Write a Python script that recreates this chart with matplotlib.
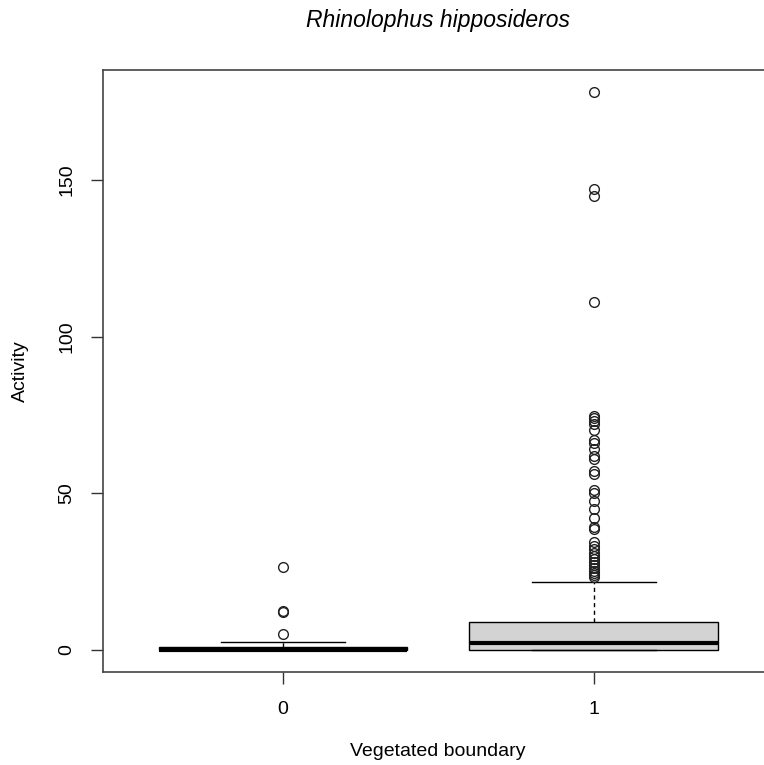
import matplotlib
matplotlib.use('Agg')
import matplotlib.pyplot as plt

plt.rcParams['font.family'] = ['Liberation Sans', 'DejaVu Sans']

# ---- data ----
categories = ['0', '1']
q1 = [0, 0]
medians = [0, 2]
q3 = [1, 8.75]
whisker_low = [0, 0]
whisker_high = [2.5, 21.75]
outliers_0 = [5, 12, 12.2, 26.5]
outliers_1 = [178, 147, 145, 111, 74.5, 74, 73, 72, 70, 67, 66, 64, 62, 61,
              57, 56, 51, 50, 47.5, 45, 42, 39.3, 38.5, 34.5, 33, 32, 31, 30,
              29, 28, 27, 26, 25, 24.5, 24, 23.2]
yticks = [0, 50, 100, 150]
title = 'Rhinolophus hipposideros'
xlabel = 'Vegetated boundary'
ylabel = 'Activity'

fliers = [outliers_0, outliers_1]
stats = []
for i, c in enumerate(categories):
    stats.append(dict(label=c, q1=q1[i], med=medians[i], q3=q3[i],
                      whislo=whisker_low[i], whishi=whisker_high[i],
                      fliers=fliers[i]))

fig = plt.figure(figsize=(7.64, 7.65), dpi=100)
ax = fig.add_axes([102.6 / 764, 93 / 765, (774 - 102.6) / 764, 602 / 765])

ax.bxp(stats, positions=[1, 2], widths=0.8, patch_artist=True,
       boxprops=dict(facecolor='#d3d3d3', edgecolor='black', linewidth=1),
       medianprops=dict(color='black', linewidth=3, solid_capstyle='butt'),
       whiskerprops=dict(color='black', linewidth=1, linestyle=(0, (3, 2.5))),
       capprops=dict(color='black', linewidth=1),
       flierprops=dict(marker='o', markerfacecolor='none', markeredgecolor='#222222',
                       markersize=7, markeredgewidth=1))

all_vals = outliers_0 + outliers_1 + whisker_low + whisker_high
lo, hi = min(all_vals), max(all_vals)
pad = 0.04 * (hi - lo)
ax.set_ylim(lo - pad, hi + pad)
ax.set_xlim(0.42, 2.58)

ax.set_yticks(yticks)
ax.set_yticklabels([str(v) for v in yticks], rotation=90, va='center')
ax.set_xticks([1, 2])
ax.set_xticklabels(categories)
ax.tick_params(axis='y', length=8.5, width=1, pad=11, labelsize=14, color='#333333')
ax.tick_params(axis='x', length=8.5, width=1, pad=12.5, labelsize=14, color='#333333')
for s in ax.spines.values():
    s.set_color('#444444')
    s.set_linewidth(1.2)

fig.text(438 / 764, 1 - 20 / 765, title, style='italic', fontsize=16.5,
         ha='center', va='center')
fig.text(438 / 764, 1 - 752 / 765, xlabel, fontsize=14, ha='center', va='center')
fig.text(20 / 764, 1 - 371 / 765, ylabel, fontsize=14, rotation=90,
         ha='center', va='center')

fig.savefig('out.png', dpi=100)
